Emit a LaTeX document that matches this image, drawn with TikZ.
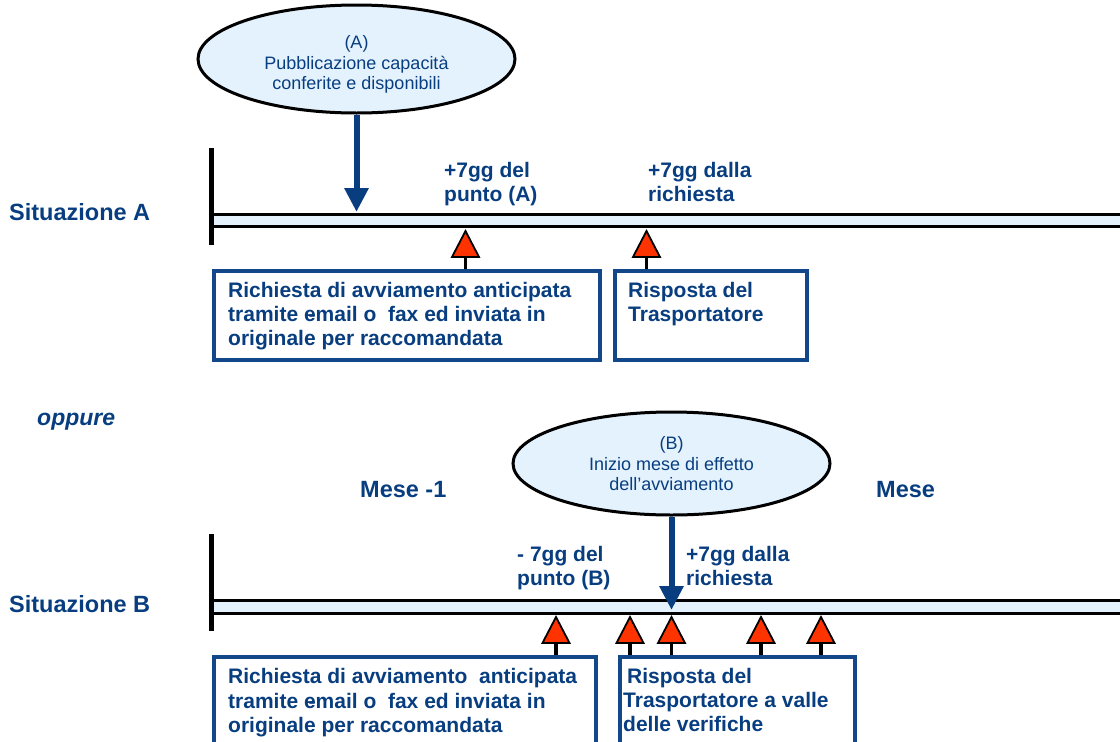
\documentclass[tikz,border=0pt]{standalone}
\usepackage{fontspec}
\setmainfont{Liberation Sans}
\usetikzlibrary{shapes.geometric,arrows.meta}
\definecolor{navy}{RGB}{8,62,128}
\definecolor{boxblue}{RGB}{18,72,138}
\definecolor{lightfill}{RGB}{228,242,253}
\definecolor{trired}{RGB}{255,51,0}
\begin{document}
\begin{tikzpicture}[x=1pt,y=-1pt,
  lbl/.style={font=\fontsize{21}{24}\selectfont\bfseries, text=navy, anchor=base west, inner sep=0pt},
  big/.style={font=\fontsize{23.5}{26}\selectfont\bfseries, text=navy, anchor=base west, inner sep=0pt},
  etxt/.style={font=\fontsize{18}{20}\selectfont, text=navy, anchor=base, inner sep=0pt},
  oval/.style={ellipse, draw=black, line width=3pt, fill=lightfill, inner sep=0pt},
  infobox/.style={draw=boxblue, line width=4pt, fill=white, anchor=north west, inner sep=0pt},
  bar/.style={draw=black, line width=3pt, fill=lightfill},
  tick/.style={line width=4.5pt, draw=black},
  stem/.style={line width=3.5pt, draw=black},
  tri/.style={fill=trired, draw=black, line width=1.8pt, line join=miter},
  bigarrow/.style={draw=navy, line width=6pt, -{Triangle[width=23pt,length=24pt]}, fill=navy}
]
\useasboundingbox (0,0) rectangle (1120,742);
\clip (0,0) rectangle (1120,742);

% ---------------- Situazione A ----------------
\node[oval, minimum width=317pt, minimum height=108pt] (eA) at (356.5,59) {};
\node[etxt] (eA1) at (356.5,48) {(A)};
\node[etxt] (eA2) at (356.5,69) {Pubblicazione capacità};
\node[etxt] (eA3) at (356.5,89) {conferite e disponibili};

\draw[bar] (211.5,214.5) rectangle (1135,226);
\draw[tick] (211.5,148) -- (211.5,245);
\coordinate (aA) at (356.5,212);
\draw[bigarrow] (eA.south) -- (aA);

\node[big] (sitA) at (9,220) {Situazione A};
\node[lbl] (lA1) at (444,177) {+7gg del};
\node[lbl] (lA2) at (444,201) {punto (A)};
\node[lbl] (lA3) at (648,177) {+7gg dalla};
\node[lbl] (lA4) at (648,201) {richiesta};

\node[infobox, minimum width=386pt, minimum height=89pt] (bA1) at (212,269) {};
\node[infobox, minimum width=192pt, minimum height=89pt] (bA2) at (613,269) {};
\node[lbl] (tA11) at (228,297) {Richiesta di avviamento anticipata};
\node[lbl] (tA12) at (228,321) {tramite e\llap{-}mail o\ \ fax ed inviata in};
\node[lbl] (tA13) at (228,345) {originale per raccomandata};
\node[lbl] (tA21) at (628,297) {Risposta del};
\node[lbl] (tA22) at (628,321) {Trasportatore};

\foreach \x/\n/\b in {465.5/pA1/bA1, 646.5/pA2/bA2}{
  \draw[tri] (\x,231) -- (\x+13.5,257) -- (\x-13.5,257) -- cycle;
  \coordinate (\n) at (\x,257.8);
  \draw[stem] (\n) -- (\n |- \b.north);
}

% ---------------- oppure ----------------
\node[font=\fontsize{23}{26}\selectfont\bfseries\itshape, text=navy, anchor=base west, inner sep=0pt] (opp) at (37,425) {oppure};
\node[big] (m1) at (360,497) {Mese -1};
\node[big] (m2) at (876,497) {Mese};

% ---------------- Situazione B ----------------
\node[oval, minimum width=317pt, minimum height=103pt] (eB) at (671.5,463.5) {};
\node[etxt] (eB1) at (671.5,449) {(B)};
\node[etxt] (eB2) at (671.5,470) {Inizio mese di effetto};
\node[etxt] (eB3) at (671.5,490) {dell’avviamento};

\draw[bar] (211.5,600.5) rectangle (1135,613);
\draw[tick] (211.5,534) -- (211.5,631);

\node[big] (sitB) at (9,612) {Situazione B};
\node[lbl] (lB1) at (517,561) {- 7gg del};
\node[lbl] (lB2) at (517,585) {punto (B)};
\node[lbl] (lB3) at (686,561) {+7gg dalla};
\node[lbl] (lB4) at (686,585) {richiesta};

\node[infobox, minimum width=382pt, minimum height=120pt] (bB1) at (212,655) {};
\node[infobox, minimum width=235pt, minimum height=120pt] (bB2) at (618,655) {};
\node[lbl] (tB11) at (228,683) {Richiesta di avviamento\ \ anticipata};
\node[lbl] (tB12) at (228,708) {tramite e\llap{-}mail o\ \ fax ed inviata in};
\node[lbl] (tB13) at (228,732) {originale per raccomandata};
\node[lbl] (tB21) at (627,683) {Risposta del};
\node[lbl] (tB22) at (623,707) {Trasportatore a valle};
\node[lbl] (tB23) at (623,731) {delle verifiche};

\foreach \x/\n/\b in {556/pB1/bB1, 630/pB2/bB2, 671.5/pB3/bB2, 761/pB4/bB2, 821/pB5/bB2}{
  \draw[tri] (\x,617) -- (\x+13.5,643) -- (\x-13.5,643) -- cycle;
  \coordinate (\n) at (\x,643.8);
  \draw[stem] (\n) -- (\n |- \b.north);
}

\coordinate (aB) at (671.5,610);
\draw[bigarrow] (eB.south) -- (aB);
\end{tikzpicture}
\end{document}
